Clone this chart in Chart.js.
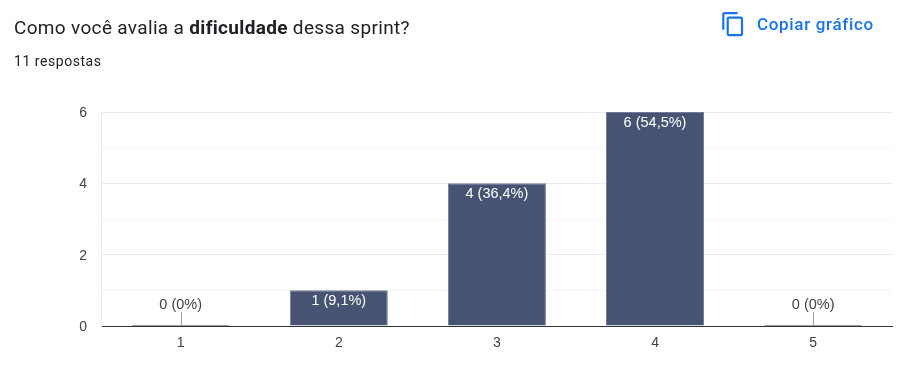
<!DOCTYPE html>
<html><head><meta charset="utf-8">
<script src="https://cdn.jsdelivr.net/npm/chart.js@4/dist/chart.umd.min.js"></script>
<style>
html,body{margin:0;padding:0;background:#fff;width:901px;height:390px;overflow:hidden}
#c{position:absolute;left:0;top:0}
.t{position:absolute;white-space:nowrap;font-family:Roboto,sans-serif}
#title{left:14px;top:16px;font-size:19px;line-height:24px;color:#202124;letter-spacing:.33px}
#sub{left:14px;top:52px;font-size:14px;line-height:18px;color:#202124;letter-spacing:.55px}
#copy{left:757px;top:13px;font-size:17px;line-height:22px;font-weight:500;color:#1a73e8;letter-spacing:.68px}
#icon{position:absolute;left:720px;top:11px}
</style></head><body>
<canvas id="c" width="901" height="390"></canvas>
<div class="t" id="title">Como você avalia a <b>dificuldade</b> dessa sprint?</div>
<div class="t" id="sub">11 respostas</div>
<svg id="icon" width="26.4" height="26.4" viewBox="0 0 24 24"><path fill="#1a73e8" d="M16 1H4c-1.1 0-2 .9-2 2v14h2V3h12V1zm3 4H8c-1.1 0-2 .9-2 2v14c0 1.100.9 2 2 2h11c1.100 0 2-.9 2-2V7c0-1.100-.9-2-2-2zm0 16H8V7h11v14z"/></svg>
<div class="t" id="copy">Copiar gráfico</div>
<script>
const categories = ["1","2","3","4","5"];
const counts = [0,1,4,6,0];
const barLabels = ["0 (0%)","1 (9,1%)","4 (36,4%)","6 (54,5%)","0 (0%)"];
const yMax = 6;
const labelFont = '14.5px "Liberation Sans", Arial, sans-serif';
const labelPlugin = {
  id:'labels',
  afterDatasetsDraw(chart){
    const ctx = chart.ctx, meta = chart.getDatasetMeta(0);
    ctx.save(); ctx.font = labelFont; ctx.textAlign='center'; ctx.textBaseline='middle';
    meta.data.forEach((bar,i)=>{
      if(counts[i]===0){
        ctx.strokeStyle='#9e9e9e'; ctx.lineWidth=1;
        ctx.beginPath();
        ctx.moveTo(bar.x-48.5,bar.y-.5); ctx.lineTo(bar.x+48.5,bar.y-.5);
        ctx.moveTo(Math.round(bar.x)+.5,bar.y); ctx.lineTo(Math.round(bar.x)+.5,bar.y-14);
        ctx.stroke();
        ctx.fillStyle='#424242';
        ctx.fillText(barLabels[i],bar.x,bar.y-21);
      } else {
        ctx.fillStyle='#ffffff';
        ctx.fillText(barLabels[i],bar.x,bar.y+11);
      }
    });
    ctx.restore();
  }
};
new Chart(document.getElementById('c'),{
  type:'bar',
  data:{labels:categories,datasets:[{data:counts,backgroundColor:'#475373',borderColor:'#727c96',borderWidth:1,categoryPercentage:.62,barPercentage:1}]},
  plugins:[labelPlugin],
  options:{
    responsive:false,animation:false,
    layout:{padding:{top:112,right:8.8,left:0,bottom:0}},
    plugins:{legend:{display:false},tooltip:{enabled:false},title:{display:false}},
    scales:{
      x:{
        afterFit(s){s.height=64;},
        grid:{display:false,drawTicks:false},
        border:{display:true,color:'#333333',width:1},
        ticks:{color:'#424242',font:{family:'"Liberation Sans", Arial, sans-serif',size:14},padding:9,maxRotation:0}
      },
      y:{
        min:0,max:yMax,
        afterFit(s){s.width=101.6;},
        grid:{color:c=>c.tick.value%2===0?'#ebebeb':'#f5f5f5',drawTicks:false},
        border:{display:true,color:'#ebebeb'},
        ticks:{stepSize:1,color:'#424242',padding:14.6,font:{family:'"Liberation Sans", Arial, sans-serif',size:14,lineHeight:'2px'},callback:v=>v%2===0?['',String(v)]:''}
      }
    }
  }
});
</script></body></html>
